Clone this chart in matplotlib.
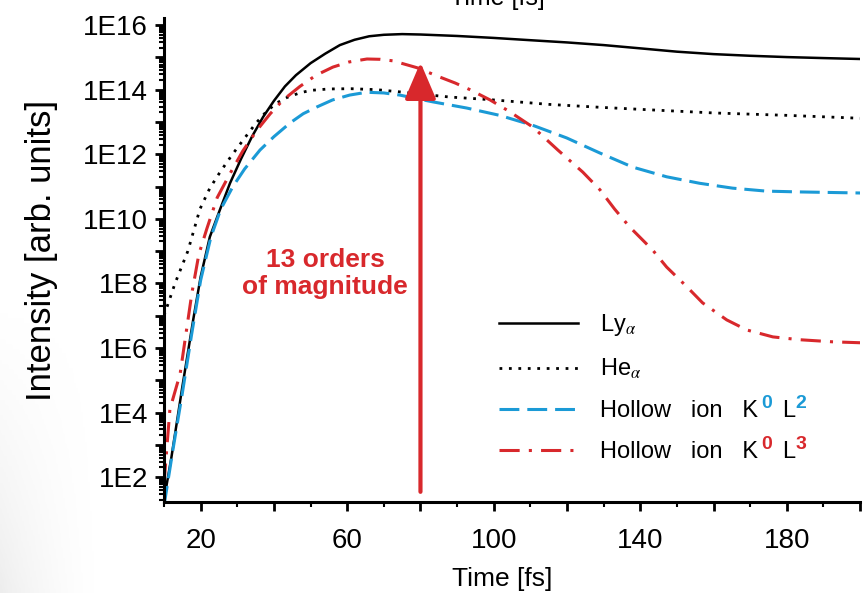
import numpy as np
import matplotlib
matplotlib.use("Agg")
import matplotlib.pyplot as plt
from matplotlib.ticker import FuncFormatter, LogLocator, MultipleLocator, NullFormatter
from matplotlib.transforms import IdentityTransform

plt.rcParams["font.family"] = ["Liberation Sans", "DejaVu Sans"]
plt.rcParams["mathtext.fontset"] = "stix"

# ----------------------------------------------------
# DATA (time in fs, intensity in arb. units)
# ----------------------------------------------------
t_ly = [10, 12, 15, 18, 20, 22.5, 25, 28, 31, 34, 37, 40, 43, 46, 50, 54, 58,
        62, 66, 70, 75, 80, 90, 100, 110, 120, 130, 140, 150, 160, 170, 180,
        190, 200]
i_ly = [2e1, 4e2, 6.3e4, 7.9e6, 1.6e8, 2.75e9, 1.6e10, 1.26e11, 7.1e11,
        3.5e12, 1.4e13, 4.5e13, 1.26e14, 2.8e14, 6.6e14, 1.3e15, 2.4e15,
        3.5e15, 4.5e15, 5e15, 5.25e15, 5.1e15, 4.6e15, 4e15, 3.4e15, 2.9e15,
        2.4e15, 1.9e15, 1.5e15, 1.26e15, 1.12e15, 1.02e15, 9.5e14, 8.9e14]

t_he = [10, 13, 16.5, 19.8, 22.5, 25.3, 28.5, 31.6, 35, 38.1, 41, 43.6, 47,
        50, 55, 61, 68, 74.5, 81, 88, 95, 100, 115, 130, 145, 160, 180, 200]
i_he = [1e7, 1e8, 1e9, 2e10, 8.9e10, 2.8e11, 9.3e11, 2.75e12, 8.9e12, 2.2e13,
        4e13, 5.75e13, 7.9e13, 9.5e13, 1.05e14, 1.07e14, 1e14, 8.5e13, 7.1e13,
        5.9e13, 5.25e13, 4.8e13, 3.5e13, 2.8e13, 2.3e13, 1.9e13, 1.6e13,
        1.3e13]

t_k0l2 = [10, 12.5, 15, 17.5, 20, 22.8, 25.5, 28.8, 32, 36.2, 40, 44.4, 48,
          51.7, 56, 60.7, 65.3, 70, 74.3, 83.3, 92.6, 101.6, 110.6, 119.9,
          128.9, 137.9, 147.2, 156.2, 165.2, 174.4, 183.4, 200]
i_k0l2 = [1.3e1, 7.9e2, 4e4, 2.5e6, 1.26e8, 2.75e9, 2e10, 1e11, 3.5e11,
          1.35e12, 3.5e12, 9.3e12, 1.8e13, 2.9e13, 4.8e13, 6.8e13, 8.3e13,
          7.9e13, 6.8e13, 4.2e13, 2.7e13, 1.6e13, 7.9e12, 3.2e12, 1.1e12,
          4e11, 2e11, 1.26e11, 8.9e10, 7.2e10, 6.8e10, 6.3e10]

t_k0l3 = [10, 11.6, 14.4, 17.6, 19.5, 21.7, 24.5, 28, 31.5, 35.4, 39, 42.5,
          47.1, 51.5, 56.1, 60.5, 65.4, 69, 72.5, 79, 85.3, 89.5, 93.5, 99,
          104, 110.7, 117.5, 124.3, 129, 133, 137.1, 143.4, 147.2, 152.7, 157,
          163.6, 169.1, 176.2, 183.5, 192.5, 200]
i_k0l3 = [6.3e1, 1.26e4, 1.6e5, 5e7, 7.9e8, 5e9, 4.5e10, 2.5e11, 1.26e12,
          5.6e12, 1.8e13, 4.8e13, 1.26e14, 2.8e14, 5e14, 7.2e14, 8.9e14,
          8.7e14, 7.8e14, 4.8e14, 2.45e14, 1.6e14, 1e14, 4.8e13, 2.2e13,
          6.9e12, 1.35e12, 2.8e11, 7.9e10, 2e10, 5.6e9, 1.07e9, 3.2e8, 7.9e7,
          2.5e7, 7.4e6, 3.6e6, 2.2e6, 1.8e6, 1.55e6, 1.45e6]

arrow_time = 80
arrow_from = 35
arrow_to = 7e14
note_time = 54
note_level = 2e8

x_labels = [20, 60, 100, 140, 180]

BLUE = "#1b9ad6"
RED = "#d8282c"

# ----------------------------------------------------
# FIGURE
# ----------------------------------------------------
fig = plt.figure(figsize=(8.67, 5.93), dpi=100)

# soft grey shading at the lower left of the slide
bg = fig.add_axes([0, 0, 0.12, 0.5], zorder=-1)
shade = np.outer(np.linspace(1, 0, 60) ** 1.3, np.linspace(1, 0, 60) ** 1.6)
bg.imshow(shade, aspect="auto", cmap="Greys", vmin=0, vmax=7, origin="lower",
          extent=[0, 1, 0, 1])
bg.axis("off")

ax = fig.add_axes([0.1892, 0.1535, 0.8028, 0.8162])
ax.set_facecolor("none")

ax.plot(t_ly, i_ly, color="black", lw=1.8, label=r"Ly$_{\alpha}$")
ax.plot(t_he, i_he, color="black", lw=2.0, linestyle=(0, (1, 2.4)),
        label=r"He$_{\alpha}$")
ax.plot(t_k0l2, i_k0l2, color=BLUE, lw=2.2, linestyle=(0, (6.5, 2.6)),
        label="Hollow   ion   K")
ax.plot(t_k0l3, i_k0l3, color=RED, lw=2.2, linestyle=(0, (6.6, 3, 1, 3)),
        label="Hollow   ion   K")

ax.set_yscale("log")
ax.set_xlim(10, 200)
ax.set_ylim(10 ** 1.23, 10 ** 16.22)

ax.annotate(
    "", xy=(arrow_time, arrow_to), xytext=(arrow_time, arrow_from),
    arrowprops=dict(arrowstyle="-|>,head_length=0.75,head_width=0.32",
                    mutation_scale=30, color=RED, lw=3, shrinkA=0, shrinkB=0),
)
ax.text(note_time, note_level, "13 orders\nof magnitude", color=RED,
        fontsize=19, fontweight="bold", ha="center", va="center",
        linespacing=1.15)

# axes styling
for side in ["top", "right"]:
    ax.spines[side].set_visible(False)
for side in ["left", "bottom"]:
    ax.spines[side].set_linewidth(2.2)

ax.yaxis.set_major_locator(LogLocator(base=10, numticks=30))
ax.yaxis.set_minor_locator(LogLocator(base=10, subs=np.arange(2, 10), numticks=30))
ax.yaxis.set_major_formatter(FuncFormatter(
    lambda v, pos: f"1E{int(round(np.log10(v)))}"
    if int(round(np.log10(v))) % 2 == 0 else ""))
ax.yaxis.set_minor_formatter(NullFormatter())

ax.xaxis.set_major_locator(MultipleLocator(20))
ax.xaxis.set_minor_locator(MultipleLocator(10))
ax.xaxis.set_major_formatter(FuncFormatter(
    lambda v, pos: f"{int(v)}" if int(round(v)) in x_labels else ""))

ax.tick_params(axis="both", which="major", direction="out", length=6.5,
               width=2, labelsize=20)
ax.tick_params(axis="both", which="minor", direction="out", length=3.5,
               width=1.5)
ax.tick_params(axis="y", which="major", pad=5)
ax.tick_params(axis="x", which="major", pad=12)

ax.set_xlabel("Time [fs]", fontsize=19)
ax.xaxis.set_label_coords(0.486, -0.135)
ax.set_ylabel("Intensity [arb. units]", fontsize=25)
ax.yaxis.set_label_coords(-0.153, 0.519)

# cut-off copy of the axis title at the very top of the slide
fig.text(0.574, 1 - 5 / 593, "Time [fs]", fontsize=18, ha="center",
         va="baseline")

leg = ax.legend(
    loc="upper left", bbox_to_anchor=(0.481, 0.392), frameon=False,
    fontsize=17, handlelength=3.35, handletextpad=0.93, labelspacing=0.8,
    borderpad=0, borderaxespad=0,
)

# coloured superscripts after "K" in the two hollow-ion entries
fig.canvas.draw()
renderer = fig.canvas.get_renderer()
for txt, color, upper in zip(leg.get_texts()[2:], [BLUE, RED], ["2", "3"]):
    bb = txt.get_window_extent(renderer)
    _, _, lp_d = renderer.get_text_width_height_descent(
        "lp", txt.get_fontproperties(), ismath=False)
    base = bb.y0 + lp_d
    x = bb.x1
    pieces = [("0", 14, "bold", color, 9, 3),
              ("L", 17, "normal", "black", 0, 10),
              (upper, 14, "bold", color, 9, 1)]
    for s, size, weight, col, dy, gap in pieces:
        piece = fig.text(x + gap, base + dy, s, transform=IdentityTransform(),
                         fontsize=size, fontweight=weight, color=col,
                         ha="left", va="baseline")
        x = piece.get_window_extent(renderer).x1

fig.savefig("out.png", dpi=100)
plt.close(fig)
